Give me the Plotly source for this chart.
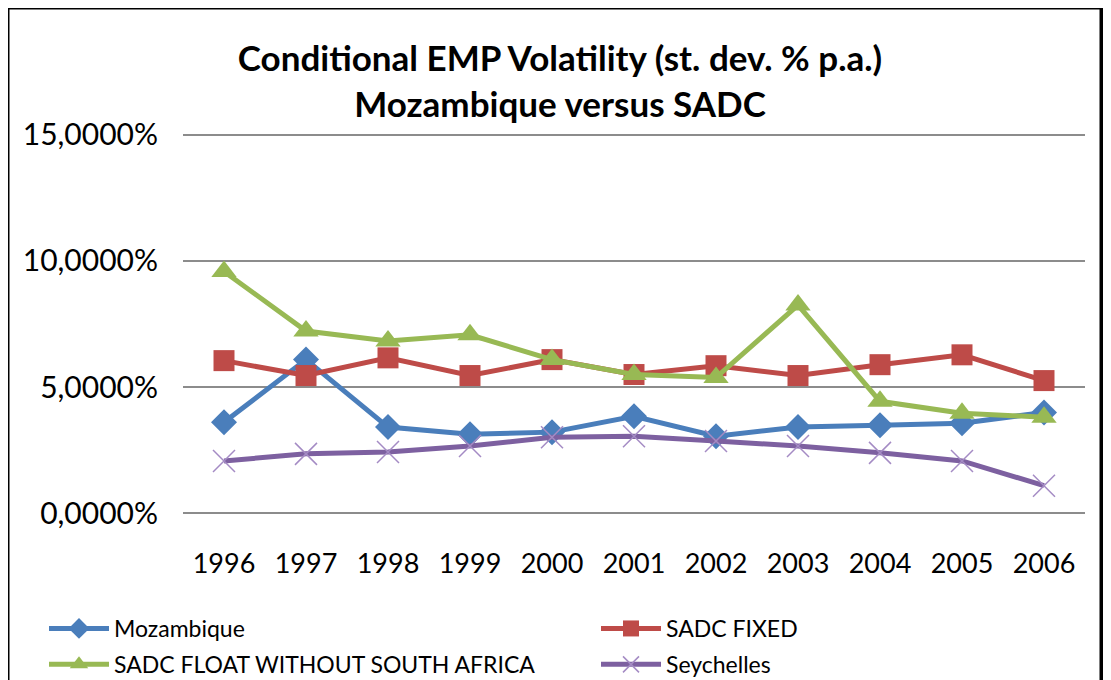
import plotly.graph_objects as go

years = ["1996", "1997", "1998", "1999", "2000", "2001", "2002", "2003", "2004", "2005", "2006"]
mozambique = [3.61, 6.09, 3.42, 3.14, 3.22, 3.85, 3.06, 3.42, 3.49, 3.57, 4.00]
sadc_fixed = [6.05, 5.46, 6.16, 5.46, 6.09, 5.50, 5.85, 5.46, 5.89, 6.28, 5.26]
sadc_float = [9.58, 7.22, 6.83, 7.07, 6.09, 5.50, 5.38, 8.25, 4.44, 3.97, 3.81]
seychelles = [2.08, 2.36, 2.43, 2.67, 3.02, 3.06, 2.87, 2.67, 2.40, 2.08, 1.10]

y_ticks = [0, 5, 10, 15]
y_tick_text = ["0,0000%", "5,0000%", "10,0000%", "15,0000%"]

FONT = "Lato"

fig = go.Figure()
fig.add_trace(go.Scatter(x=years, y=mozambique, name="Mozambique", mode="lines+markers",
                         legend="legend", legendgroup="a",
                         line=dict(color="#4A7EBB", width=5),
                         marker=dict(symbol="diamond", size=20, color="#4A7EBB")))
fig.add_trace(go.Scatter(x=years, y=sadc_fixed, name="SADC FIXED", mode="lines+markers",
                         legend="legend2", legendgroup="b",
                         line=dict(color="#BE4B48", width=5),
                         marker=dict(symbol="square", size=21, color="#BE4B48")))
fig.add_trace(go.Scatter(x=years, y=sadc_float, name="SADC FLOAT WITHOUT SOUTH AFRICA", mode="lines+markers",
                         legend="legend", legendgroup="c",
                         line=dict(color="#98B954", width=5),
                         marker=dict(symbol="triangle-up", size=22, color="#98B954")))
fig.add_trace(go.Scatter(x=years, y=seychelles, name="Seychelles", mode="lines+markers",
                         legend="legend2", legendgroup="d",
                         line=dict(color="#7D60A0", width=5),
                         marker=dict(symbol="x-thin", size=22, line=dict(color="#A48BC4", width=1.5))))

OFF = 8  # page offset of the figure div
W, H = 1111, 680
PL, PR, PT, PB = 183, 1085, 133, 515  # target plot area in page pixels
L = PL - OFF
T = PT - OFF
pw, ph = PR - PL, PB - PT
R = W - L - pw
B = H - T - ph

def px(x):
    return (x - PL) / pw

def py(y):
    return (PB - y) / ph

legend_common = dict(orientation="v", xanchor="left", yanchor="top",
                     font=dict(size=23, family=FONT), itemwidth=60,
                     tracegroupgap=3, bgcolor="rgba(0,0,0,0)")

fig.update_layout(
    width=W, height=H,
    margin=dict(l=L, r=R, t=T, b=B, autoexpand=False),
    paper_bgcolor="white", plot_bgcolor="white",
    font=dict(family=FONT, color="black"),
    title=dict(text="<b>Conditional EMP Volatility (st. dev. % p.a.)<br>Mozambique versus SADC</b>",
               x=(560 - OFF) / W, xanchor="center", y=1 - (71 - OFF) / H, yanchor="middle",
               font=dict(size=35, family=FONT)),
    xaxis=dict(type="category", range=[-0.5, 10.5], showgrid=False, showline=False,
               ticks="", tickfont=dict(size=27, family=FONT), zeroline=False,
               automargin=False, ticklabelstandoff=30),
    yaxis=dict(range=[-0.06, 15.06], tickvals=y_ticks, ticktext=y_tick_text, showgrid=True,
               gridcolor="#8C8C8C", gridwidth=1.5, zeroline=False, showline=False,
               ticks="", tickfont=dict(size=30, family=FONT), ticklabelstandoff=24,
               automargin=False),
    legend=dict(x=px(44), y=py(607), **legend_common),
    legend2=dict(x=px(596), y=py(607), **legend_common),
    showlegend=True,
)

fig.add_shape(type="line", xref="paper", yref="paper", x0=px(7), x1=px(7), y0=py(7), y1=py(700),
              line=dict(color="black", width=5))
fig.add_shape(type="line", xref="paper", yref="paper", x0=px(1102), x1=px(1102), y0=py(7), y1=py(700),
              line=dict(color="black", width=5))
fig.add_shape(type="line", xref="paper", yref="paper", x0=px(5), x1=px(1104), y0=py(7), y1=py(7),
              line=dict(color="black", width=5))

fig.write_html("out.html")
